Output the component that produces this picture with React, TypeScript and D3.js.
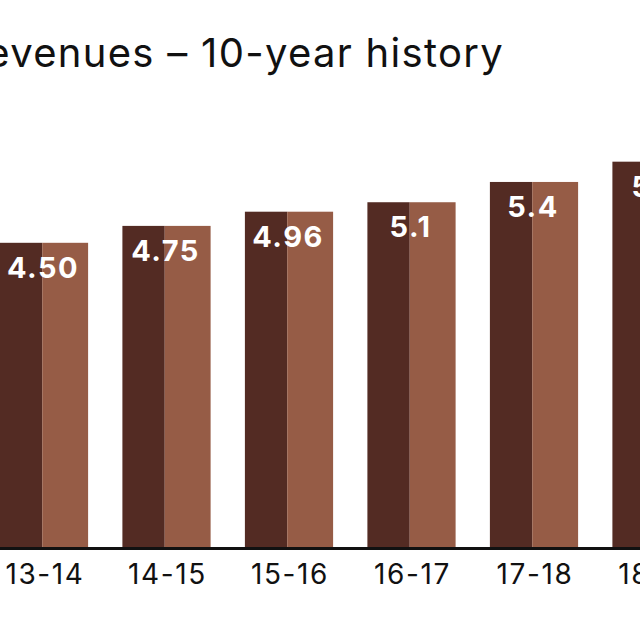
import React from "react";
import * as d3 from "d3";

const categories = ["13-14", "14-15", "15-16", "16-17", "17-18", "18-19"];
const values = [4.5, 4.75, 4.96, 5.1, 5.4, 5.7];
const valueLabels = ["4.50", "4.75", "4.96", "5.1", "5.4", "5.7"];
const title = "Revenues – 10-year history";

const W = 640;
const H = 640;
const baseY = 547;

export default function App() {
  const x = d3
    .scaleBand<string>()
    .domain(categories)
    .range([-17.25, 717.75])
    .paddingInner(0.28)
    .paddingOuter(0.14);
  const y = d3.scaleLinear().domain([0, 6]).range([baseY, baseY - 6 * 67.6]);
  const bw = x.bandwidth();
  const darkW = bw * 0.48;
  const font = "Inter, 'Noto Sans', sans-serif";

  return (
    <svg
      width={W}
      height={H}
      style={{ position: "absolute", left: 0, top: 0, background: "#fff" }}
    >
      <text
        x={504}
        y={67}
        textAnchor="end"
        fontFamily={font}
        fontSize={40}
        letterSpacing={1.3}
        fill="#111"
      >
        {title}
      </text>
      {categories.map((c, i) => {
        const x0 = x(c)!;
        const top = y(values[i]);
        return (
          <g key={c}>
            <rect x={x0} y={top} width={darkW} height={baseY - top} fill="#532b23" />
            <rect x={x0 + darkW} y={top} width={bw - darkW} height={baseY - top} fill="#965c46" />
            <text
              x={x0 + bw / 2 - 1}
              y={top + 35}
              textAnchor="middle"
              fontFamily={font}
              fontWeight={700}
              fontSize={29}
              letterSpacing={1.5}
              fill="#fff"
            >
              {valueLabels[i]}
            </text>
            <text
              x={x0 + bw / 2 + 1}
              y={584}
              textAnchor="middle"
              fontFamily={font}
              fontSize={28}
              letterSpacing={1.6}
              fill="#111"
            >
              {c}
            </text>
          </g>
        );
      })}
      <line x1={0} x2={W} y1={548.5} y2={548.5} stroke="#111" strokeWidth={3} />
    </svg>
  );
}
